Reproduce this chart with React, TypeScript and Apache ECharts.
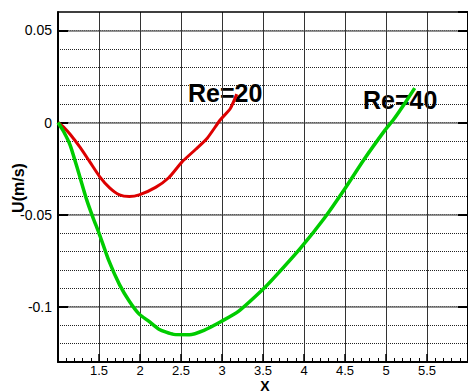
import React, { useEffect, useRef } from "react";
import * as echarts from "echarts";

const re20X = [1.0, 1.08, 1.15, 1.27, 1.39, 1.51, 1.63, 1.75, 1.87, 1.99, 2.19, 2.35, 2.51, 2.68, 2.82, 2.98, 3.1, 3.18];
const re20Y = [0, -0.003, -0.0065, -0.0135, -0.0215, -0.0295, -0.0355, -0.0393, -0.0402, -0.0393, -0.0352, -0.03, -0.0215, -0.0145, -0.0085, 0.0015, 0.0075, 0.0154];

const re40X = [1.0, 1.07, 1.15, 1.25, 1.35, 1.43, 1.5, 1.62, 1.75, 1.87, 1.99, 2.11, 2.23, 2.41, 2.6, 2.78, 2.99, 3.2, 3.5, 3.65, 3.96, 4.25, 4.49, 4.73, 4.99, 5.09, 5.23, 5.35];
const re40Y = [0, -0.005, -0.0125, -0.027, -0.042, -0.052, -0.06, -0.075, -0.088, -0.097, -0.104, -0.108, -0.1122, -0.115, -0.1152, -0.1128, -0.108, -0.1025, -0.0905, -0.0835, -0.068, -0.0518, -0.0365, -0.0202, -0.004, 0.0015, 0.0105, 0.0187];

const xMin = 1;
const xMax = 6;
const yMin = -0.13;
const yMax = 0.06;
const labels = { re20: "Re=20", re40: "Re=40", xName: "X", yName: "U(m/s)" };

const FONT = '"Liberation Sans", Arial, sans-serif';

function pairs(xs: number[], ys: number[]) {
  return xs.map((x, i) => [x, ys[i]]);
}

function fmtY(v: number) {
  const r = Math.round(v * 100) / 100;
  if (Math.abs(r) < 1e-9) return "0";
  return String(r);
}

export default function App() {
  const ref = useRef<HTMLDivElement>(null);
  useEffect(() => {
    if (!ref.current) return;
    const chart = echarts.init(ref.current, undefined, { renderer: "svg" });
    const grid = { left: 58, top: 12, width: 414, height: 350 };
    chart.setOption({
      animation: false,
      backgroundColor: "#ffffff",
      grid,
      xAxis: [
        {
          type: "value",
          min: xMin,
          max: xMax,
          interval: 0.5,
          position: "bottom",
          axisLine: { show: true, onZero: false, lineStyle: { color: "#000", width: 2 } },
          axisTick: { show: true, inside: true, length: 8, lineStyle: { color: "#000", width: 1.5 } },
          minorTick: { show: true, splitNumber: 5, length: 4, lineStyle: { color: "#000", width: 1 } },
          axisLabel: {
            show: true,
            margin: 2,
            fontSize: 13,
            lineHeight: 12,
            fontFamily: FONT,
            color: "#000",
            showMinLabel: false,
            showMaxLabel: false,
            formatter: (v: number) => String(Math.round(v * 10) / 10),
          },
          splitLine: { show: true, showMinLine: false, showMaxLine: false, lineStyle: { color: "#333", width: 1 } },
          z: 3,
        },
        {
          type: "value",
          min: xMin,
          max: xMax,
          interval: 0.5,
          position: "top",
          axisLine: { show: true, onZero: false, lineStyle: { color: "#000", width: 1.5 } },
          axisTick: { show: false },
          axisLabel: { show: false },
          splitLine: { show: false },
          z: 3,
        },
      ],
      yAxis: [
        {
          type: "value",
          min: yMin,
          max: yMax,
          splitNumber: 4,
          minInterval: 0.05,
          maxInterval: 0.05,
          position: "left",
          axisLine: { show: true, onZero: false, lineStyle: { color: "#000", width: 2 } },
          axisTick: { show: true, inside: true, length: 10, lineStyle: { color: "#000", width: 2 } },
          axisLabel: {
            show: true,
            margin: 6,
            fontSize: 14,
            fontFamily: FONT,
            color: "#000",
            showMinLabel: false,
            showMaxLabel: false,
            formatter: fmtY,
          },
          splitLine: { show: true, showMinLine: false, showMaxLine: false, lineStyle: { color: "#6e6e6e", width: 1.5 } },
          z: 2,
        },
        {
          type: "value",
          min: yMin,
          max: yMax,
          interval: 0.01,
          position: "left",
          axisLine: { show: false },
          axisTick: { show: false },
          axisLabel: { show: false },
          splitLine: { show: true, showMinLine: false, showMaxLine: false, lineStyle: { color: "#222", width: 1, type: [1, 1] } },
          z: 0,
        },
        {
          type: "value",
          min: yMin,
          max: yMax,
          splitNumber: 4,
          minInterval: 0.05,
          maxInterval: 0.05,
          position: "right",
          axisLine: { show: true, onZero: false, lineStyle: { color: "#000", width: 2 } },
          axisTick: { show: true, inside: true, length: 10, lineStyle: { color: "#000", width: 2 } },
          axisLabel: { show: false },
          splitLine: { show: false },
          z: 2,
        },
      ],
      graphic: [
        {
          type: "text",
          x: 188,
          y: 93,
          z: 1,
          style: { text: labels.re20, fontSize: 25, fontWeight: "bold", fontFamily: FONT, fill: "#000", align: "left", verticalAlign: "middle" },
        },
        {
          type: "text",
          x: 363,
          y: 100,
          z: 1,
          style: { text: labels.re40, fontSize: 25, fontWeight: "bold", fontFamily: FONT, fill: "#000", align: "left", verticalAlign: "middle" },
        },
        {
          type: "text",
          x: 265,
          y: 392,
          style: { text: labels.xName, fontSize: 14, lineHeight: 13, fontWeight: "bold", fontFamily: FONT, fill: "#000", align: "center", verticalAlign: "bottom" },
        },
        {
          type: "text",
          x: 18,
          y: 188,
          rotation: Math.PI / 2,
          style: { text: labels.yName, fontSize: 16, fontWeight: "bold", fontFamily: FONT, fill: "#000", align: "center", verticalAlign: "middle" },
        },
      ],
      series: [
        {
          name: labels.re20,
          type: "line",
          xAxisIndex: 0,
          yAxisIndex: 0,
          data: pairs(re20X, re20Y),
          showSymbol: false,
          smooth: 0.2,
          lineStyle: { color: "#dd0000", width: 3 },
          z: 5,
        },
        {
          name: labels.re40,
          type: "line",
          xAxisIndex: 0,
          yAxisIndex: 0,
          data: pairs(re40X, re40Y),
          showSymbol: false,
          smooth: 0.2,
          lineStyle: { color: "#00cc00", width: 3.5 },
          z: 5,
        },
      ],
    });
    return () => chart.dispose();
  }, []);
  return <div ref={ref} style={{ position: "absolute", left: 0, top: 0, width: 468, height: 392 }} />;
}
